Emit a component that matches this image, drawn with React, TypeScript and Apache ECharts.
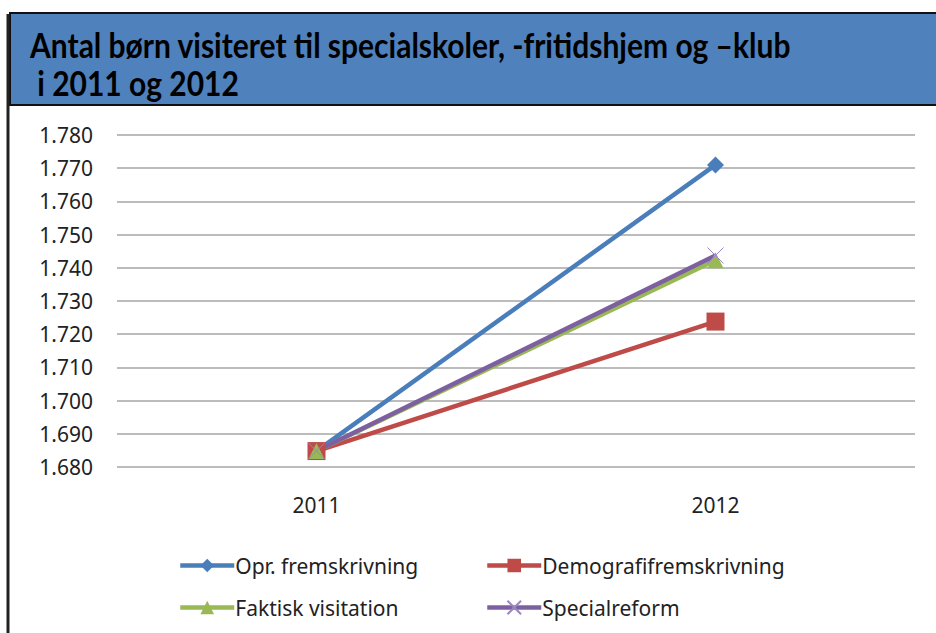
import React, { useEffect, useRef } from "react";
import * as echarts from "echarts";

const categories = ["2011", "2012"];
const oprFremskrivning = [1.6848, 1.771];
const demografiFremskrivning = [1.6848, 1.7238];
const faktiskVisitation = [1.6848, 1.7423];
const specialreform = [1.6848, 1.7437];
const yTicks = { min: 1.68, max: 1.78, interval: 0.01 };

const FONT = "'Noto Sans', 'Open Sans', sans-serif";
const TITLE_FONT = "bold 30px Lato, sans-serif";

export default function App() {
  const ref = useRef<HTMLDivElement>(null);
  useEffect(() => {
    const chart = echarts.init(ref.current!, null, { renderer: "svg" });
    const mk = (name: string, data: number[], color: string, symbol: string, size: number) => ({
      name,
      type: "line",
      data,
      symbol,
      symbolSize: size,
      lineStyle: { color, width: 4.5 },
      itemStyle: { color },
      z: 3,
    });
    const leg = (name: string, left: number, top: number) => ({
      left,
      top,
      itemWidth: 54,
      itemHeight: 17,
      itemGap: 0,
      lineStyle: { width: 4.5 },
      textStyle: { fontFamily: FONT, fontSize: 21, color: "#222", padding: [0, 0, 0, -4] },
      data: [name],
    });
    chart.setOption({
      animation: false,
      backgroundColor: "#ffffff",
      grid: { left: 117, right: 21, top: 135, bottom: 166 },
      xAxis: {
        type: "category",
        data: categories,
        boundaryGap: true,
        axisLine: { show: false },
        axisTick: { show: false },
        axisLabel: { fontFamily: FONT, fontSize: 21, color: "#222", margin: 27 },
      },
      yAxis: {
        type: "value",
        min: yTicks.min,
        max: yTicks.max,
        interval: yTicks.interval,
        axisLine: { show: false },
        axisTick: { show: false },
        splitLine: { lineStyle: { color: "#a6a6a6", width: 1.5 } },
        axisLabel: {
          fontFamily: FONT,
          fontSize: 21,
          color: "#222",
          margin: 24,
          formatter: (v: number) => v.toFixed(3),
        },
      },
      legend: [
        leg("Opr. fremskrivning", 173, 550),
        leg("Demografifremskrivning", 480, 550),
        leg("Faktisk visitation", 173, 592),
        leg("Specialreform", 480, 592),
      ],
      series: [
        mk("Opr. fremskrivning", oprFremskrivning, "#4a7ebb", "diamond", 17),
        mk("Demografifremskrivning", demografiFremskrivning, "#be4b48", "rect", 18),
        mk("Faktisk visitation", faktiskVisitation, "#98b954", "triangle", 16),
        {
          ...mk("Specialreform", specialreform, "#7d60a0", "path://M0,0L10,10M10,0L0,10", 16),
          itemStyle: { color: "#7d60a0", borderColor: "#9a86c0", borderWidth: 1 },
        },
      ],
      graphic: [
        {
          type: "rect",
          shape: { x: 10, y: 13, width: 940, height: 92 },
          style: { fill: "#4f81bd", stroke: "#111", lineWidth: 2 },
          z: 10,
        },
        {
          type: "line",
          shape: { x1: 8, y1: 14, x2: 8, y2: 633 },
          style: { stroke: "#222", lineWidth: 3 },
          z: 11,
        },
        {
          type: "text",
          x: 30,
          y: 27,
          scaleY: 1.15,
          style: {
            text: "Antal børn visiteret til specialskoler, -fritidshjem og \u2013klub",
            font: TITLE_FONT,
            fill: "#000",
          },
          z: 12,
        },
        {
          type: "text",
          x: 30,
          y: 65,
          scaleY: 1.15,
          style: {
            text: " i 2011 og 2012",
            font: TITLE_FONT,
            fill: "#000",
          },
          z: 12,
        },
      ],
    });
    return () => chart.dispose();
  }, []);
  return (
    <div
      ref={ref}
      style={{ position: "absolute", left: 0, top: 0, width: 936, height: 633 }}
    />
  );
}
